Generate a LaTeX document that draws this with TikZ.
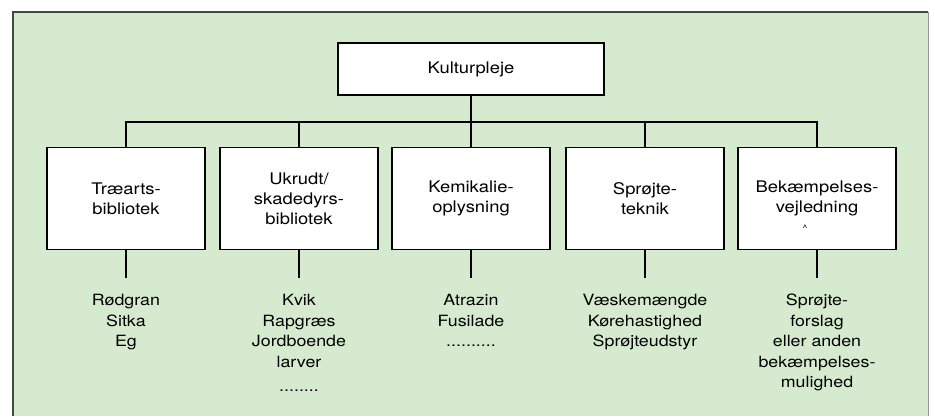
\documentclass[tikz,border=0pt]{standalone}
\usepackage{fontspec}
\setmainfont[FakeStretch=1.15]{TeX Gyre Heros}
\usetikzlibrary{calc}
\definecolor{panelgreen}{RGB}{214,234,207}
\definecolor{frameedge}{RGB}{70,70,70}
\definecolor{lightedge}{RGB}{150,150,150}
\tikzset{
  boxnode/.style={draw=black, line width=1.8pt, fill=white, rectangle, align=center,
    inner sep=0pt, font={\fontsize{16}{20}\selectfont}},
  childbox/.style={boxnode, minimum width=158pt, minimum height=102pt},
  wire/.style={draw=black, line width=1.8pt},
  leaf/.style={align=center, inner sep=0pt, anchor=north, font={\fontsize{15.5}{20.5}\selectfont}}
}
\begin{document}
\begin{tikzpicture}[x=1pt,y=-1pt]
\useasboundingbox (0,0) rectangle (935,416);
% panel
\fill[panelgreen] (13,12) rectangle (928,416);
\draw[frameedge, line width=1.5pt] (13,416) -- (13,12) -- (928,12);
\draw[lightedge, line width=0.8pt] (928,12) -- (928,416);

% top box
\node[boxnode, minimum width=266pt, minimum height=52pt] (top) at (471,69) {Kulturpleje};
\coordinate (j) at (471,122);
\coordinate (lowrow) at (471,278);

% children
\node[childbox] (c1) at (126,198.5) {Træarts-\\bibliotek};
\node[childbox] (c2) at (299,198.5) {Ukrudt/\\skadedyrs-\\bibliotek};
\node[childbox] (c3) at (471,198.5) {Kemikalie-\\oplysning};
\node[childbox] (c4) at (645,198.5) {Sprøjte-\\teknik};
\node[childbox] (c5) at (817,198.5) {Bekæmpelses-\\vejledning};
\node[inner sep=0pt, font={\fontsize{9}{9}\selectfont}] (mark) at (805,228) {\^{}};

% connectors top
\draw[wire] (top.south) -- (j);
\draw[wire, line cap=rect] (c1.north |- j) -- (c5.north |- j);
\foreach \c in {c1,c2,c3,c4,c5} {
  \draw[wire] (\c.north |- j) -- (\c.north);
  \coordinate (e\c) at (\c.south |- lowrow);
  \draw[wire] (\c.south) -- (e\c);
}

% leaves
\node[leaf] (l1) at (126,294) {Rødgran\\Sitka\\Eg};
\node[leaf] (l2) at (299,294) {Kvik\\Rapgræs\\Jordboende\\larver\\[4pt]........};
\node[leaf] (l3) at (471,294) {Atrazin\\Fusilade\\..........};
\node[leaf] (l4) at (645,294) {Væskemængde\\Kørehastighed\\Sprøjteudstyr};
\node[leaf] (l5) at (817,294) {Sprøjte-\\forslag\\eller anden\\bekæmpelses-\\mulighed};
\end{tikzpicture}
\end{document}
